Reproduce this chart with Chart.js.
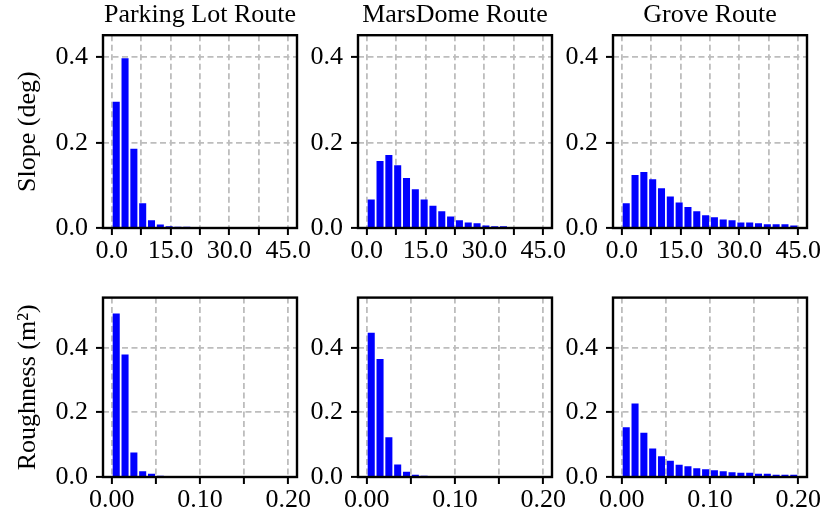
<!DOCTYPE html>
<html>
<head>
<meta charset="utf-8">
<script src="https://cdn.jsdelivr.net/npm/chart.js@4.4.1/dist/chart.umd.min.js"></script>
<style>
  html, body { margin: 0; padding: 0; background: #fff; }
  #fig { position: relative; width: 827px; height: 522px; overflow: hidden; }
  #fig canvas { position: absolute; }
</style>
</head>
<body>
<div id="fig"></div>
<script>
const routes = ["Parking Lot Route", "MarsDome Route", "Grove Route"];
const metrics = ["Slope (deg)", "Roughness (m²)"];

// bin centres (slope bins 2.25 deg wide, roughness bins 0.01 m² wide)
const slopeBins = [1.125, 3.375, 5.625, 7.875, 10.125, 12.375, 14.625, 16.875, 19.125, 21.375,
  23.625, 25.875, 28.125, 30.375, 32.625, 34.875, 37.125, 39.375, 41.625, 43.875];
const roughBins = [0.005, 0.015, 0.025, 0.035, 0.045, 0.055, 0.065, 0.075, 0.085, 0.095,
  0.105, 0.115, 0.125, 0.135, 0.145, 0.155, 0.165, 0.175, 0.185, 0.195];

const parkingSlope = [0.296, 0.398, 0.186, 0.058, 0.018, 0.008, 0.004, 0.003, 0.003, 0.002,
  0.002, 0.002, 0.002, 0.002, 0.002, 0, 0, 0, 0, 0];
const marsSlope = [0.067, 0.157, 0.171, 0.147, 0.117, 0.091, 0.067, 0.052, 0.039, 0.027,
  0.018, 0.013, 0.011, 0.006, 0.004, 0.004, 0, 0, 0, 0];
const groveSlope = [0.058, 0.124, 0.131, 0.114, 0.093, 0.074, 0.060, 0.049, 0.039, 0.030,
  0.025, 0.020, 0.018, 0.013, 0.013, 0.011, 0.009, 0.009, 0.009, 0.006];

const parkingRough = [0.506, 0.379, 0.076, 0.018, 0.010, 0.004, 0.003, 0, 0, 0,
  0, 0, 0, 0, 0, 0, 0, 0, 0, 0];
const marsRough = [0.446, 0.365, 0.123, 0.039, 0.016, 0.007, 0.004, 0, 0, 0,
  0, 0, 0, 0, 0, 0, 0, 0, 0, 0];
const groveRough = [0.154, 0.227, 0.137, 0.088, 0.064, 0.050, 0.038, 0.033, 0.027, 0.024,
  0.021, 0.018, 0.015, 0.013, 0.013, 0.010, 0.010, 0.007, 0.007, 0.007];

const slopeTicks = [0, 7.5, 15, 22.5, 30, 37.5, 45];
const slopeTickLabels = ["0.0", "", "15.0", "", "30.0", "", "45.0"];
const roughTicks = [0, 0.05, 0.1, 0.15, 0.2];
const roughTickLabels = ["0.00", "", "0.10", "", "0.20"];
const fracTicks = [0, 0.2, 0.4];
const fracTickLabels = ["0.0", "0.2", "0.4"];

const slopeValues = [parkingSlope, marsSlope, groveSlope];
const roughValues = [parkingRough, marsRough, groveRough];

// layout
const colLeft = [103, 358, 613];
const rowTop = [35, 284];
const frameW = 194;
const frameH = 193;
const xAxisH = 40;
const FONT = "'Liberation Serif', 'Times New Roman', serif";

Chart.defaults.font.family = FONT;
Chart.defaults.font.size = 26;
Chart.defaults.color = "#000";

const framePlugin = {
  id: "frame",
  afterDatasetsDraw(chart) {
    const { ctx, chartArea: a } = chart;
    ctx.save();
    ctx.strokeStyle = "#000";
    ctx.lineWidth = 2.4;
    ctx.strokeRect(a.left, a.top, a.right - a.left, a.bottom - a.top);
    ctx.restore();
  },
};

const gridStyle = {
  color: "#bdbdbd",
  lineWidth: 1.8,
  drawTicks: true,
  tickLength: 7,
  tickColor: "#000",
  tickWidth: 2,
  offset: false,
};

function makePanel(row, col) {
  const yW = col === 0 ? 103 : 62;
  const padTop = row === 0 ? 0 : 10;
  const titleH = row === 0 ? 35 : 0;
  const canvas = document.createElement("canvas");
  const w = yW + frameW + 24;
  const h = titleH + padTop + frameH + xAxisH;
  canvas.width = w;
  canvas.height = h;
  canvas.style.left = colLeft[col] - yW + "px";
  canvas.style.top = rowTop[row] - titleH - padTop + "px";
  document.getElementById("fig").appendChild(canvas);

  const bins = row === 0 ? slopeBins : roughBins;
  const vals = row === 0 ? slopeValues[col] : roughValues[col];
  const xTicks = row === 0 ? slopeTicks : roughTicks;
  const xLabels = row === 0 ? slopeTickLabels : roughTickLabels;

  new Chart(canvas, {
    type: "bar",
    data: {
      datasets: [
        {
          data: bins.map((b, i) => ({ x: b, y: vals[i] })),
          backgroundColor: "#0000ff",
          borderWidth: 0,
          barPercentage: 0.8,
          categoryPercentage: 1.0,
        },
      ],
    },
    options: {
      responsive: false,
      animation: false,
      events: [],
      layout: { padding: { top: padTop, left: 0, right: 24, bottom: 0 } },
      plugins: {
        legend: { display: false },
        tooltip: { enabled: false },
        title: {
          display: row === 0,
          text: routes[col],
          fullSize: false,
          font: { size: 26, weight: "normal" },
          padding: { top: 0, bottom: 4 },
        },
      },
      scales: {
        x: {
          type: "linear",
          offset: false,
          bounds: "data",
          min: row === 0 ? -2.25 : -0.01,
          max: row === 0 ? 47.25 : 0.21,
          grid: gridStyle,
          border: { display: false, dash: [6, 3.5] },
          ticks: {
            padding: 1,
            maxRotation: 0,
            autoSkip: false,
            callback: (v, i) => xLabels[i],
          },
          afterBuildTicks: (axis) => {
            axis.ticks = xTicks.map((v) => ({ value: v }));
          },
          afterFit: (axis) => {
            axis.height = xAxisH;
          },
        },
        y: {
          type: "linear",
          bounds: "data",
          min: 0,
          max: row === 0 ? 0.452 : 0.555,
          grid: gridStyle,
          border: { display: false, dash: [6, 3.5] },
          title: {
            display: col === 0,
            text: metrics[row],
            font: { size: 26 },
            padding: { top: 13, bottom: 0 },
          },
          ticks: {
            padding: 8,
            autoSkip: false,
            callback: (v, i) => fracTickLabels[i],
          },
          afterBuildTicks: (axis) => {
            axis.ticks = fracTicks.map((v) => ({ value: v }));
          },
          afterFit: (axis) => {
            axis.width = yW;
          },
        },
      },
    },
    plugins: [framePlugin],
  });
}

for (let r = 0; r < 2; r++) {
  for (let c = 0; c < 3; c++) makePanel(r, c);
}
</script>
</body>
</html>
